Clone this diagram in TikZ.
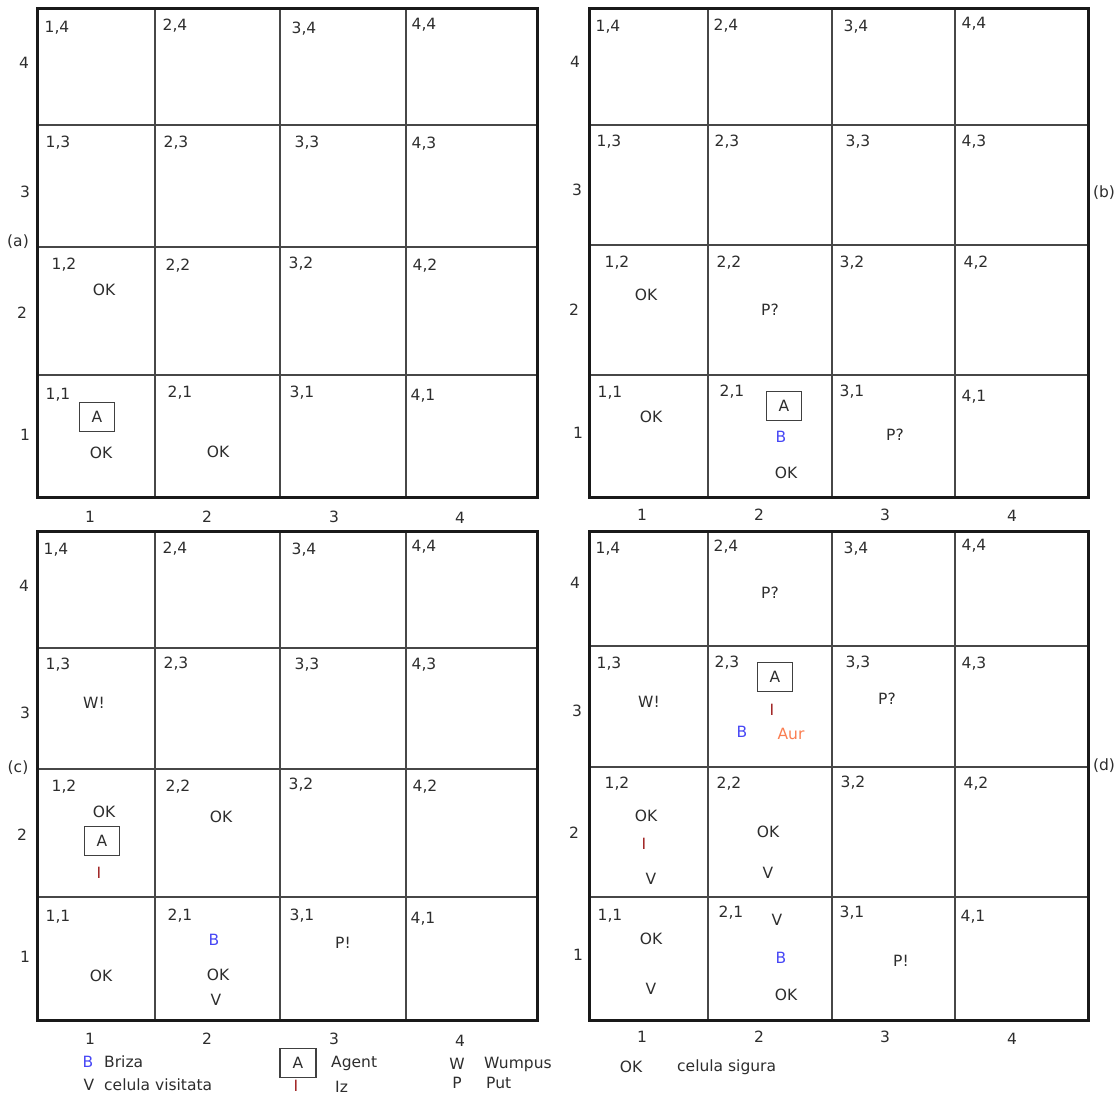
\documentclass[tikz,border=0pt]{standalone}
\usepackage{fontspec}
\setmainfont{DejaVu Sans}
\definecolor{ink}{RGB}{45,45,45}
\definecolor{bz}{RGB}{70,70,245}
\definecolor{iz}{RGB}{160,35,35}
\definecolor{aur}{RGB}{250,125,80}
\begin{document}
\begin{tikzpicture}[x=1pt,y=-1pt,
  txt/.style={font=\fontsize{15.5}{17}\selectfont, text=ink, inner sep=0pt},
  outerbox/.style={line width=3pt, draw=black!90},
  innerline/.style={line width=1.9pt, draw=black!72},
  agentbox/.style={txt, draw=black!75, line width=1.6pt, minimum width=35pt, minimum height=29pt},
  breeze/.style={txt, text=bz},
  stench/.style={txt, text=iz},
  gold/.style={txt, text=aur},
]
\useasboundingbox (0,0) rectangle (1118,1097);

% ---------- grid (a) ----------
\foreach \x in {155,280,406} \draw[innerline] (\x,9) -- (\x,497);
\foreach \y in {125,247,375} \draw[innerline] (37,\y) -- (537,\y);
\draw[outerbox] (37,9) rectangle (537,497);
% ---------- grid (b) ----------
\foreach \x in {708,832,955} \draw[innerline] (\x,9) -- (\x,497);
\foreach \y in {125,245,375} \draw[innerline] (589,\y) -- (1088,\y);
\draw[outerbox] (589,9) rectangle (1088,497);
% ---------- grid (c) ----------
\foreach \x in {155,280,406} \draw[innerline] (\x,531) -- (\x,1020);
\foreach \y in {648,769,897} \draw[innerline] (37,\y) -- (537,\y);
\draw[outerbox] (37,531) rectangle (537,1020);
% ---------- grid (d) ----------
\foreach \x in {708,832,955} \draw[innerline] (\x,531) -- (\x,1020);
\foreach \y in {646,767,897} \draw[innerline] (589,\y) -- (1088,\y);
\draw[outerbox] (589,531) rectangle (1088,1020);

% ---------- cell coordinates ----------
\foreach \c/\r/\x/\y in {1/4/57/28, 2/4/175/26, 3/4/304/29, 4/4/424/25,
  1/3/58/143, 2/3/176/143, 3/3/307/143, 4/3/424/144,
  1/2/64/265, 2/2/178/266, 3/2/301/264, 4/2/425/266,
  1/1/58/395, 2/1/180/393, 3/1/302/393, 4/1/423/396}
  \node[txt] (a\c\r) at (\x,\y) {\c,\r};
\foreach \c/\r/\x/\y in {1/4/608/27, 2/4/726/26, 3/4/856/27, 4/4/974/24,
  1/3/609/142, 2/3/727/142, 3/3/858/142, 4/3/974/142,
  1/2/617/263, 2/2/729/263, 3/2/852/263, 4/2/976/263,
  1/1/610/393, 2/1/732/392, 3/1/852/392, 4/1/974/397}
  \node[txt] (b\c\r) at (\x,\y) {\c,\r};
\foreach \c/\r/\x/\y in {1/4/56/550, 2/4/175/549, 3/4/304/550, 4/4/424/547,
  1/3/58/665, 2/3/176/664, 3/3/307/665, 4/3/424/665,
  1/2/64/787, 2/2/178/787, 3/2/301/785, 4/2/425/787,
  1/1/58/917, 2/1/180/916, 3/1/302/916, 4/1/423/919}
  \node[txt] (c\c\r) at (\x,\y) {\c,\r};
\foreach \c/\r/\x/\y in {1/4/608/549, 2/4/726/547, 3/4/856/549, 4/4/974/546,
  1/3/609/664, 2/3/727/663, 3/3/858/663, 4/3/974/664,
  1/2/617/784, 2/2/729/784, 3/2/853/783, 4/2/976/784,
  1/1/610/916, 2/1/731/913, 3/1/852/913, 4/1/973/917}
  \node[txt] (d\c\r) at (\x,\y) {\c,\r};

% ---------- axis labels ----------
\foreach \n/\x/\y in {4/24/63, 3/25/192, 2/22/313, 1/25/435}
  \node[txt] (ar\n) at (\x,\y) {\n};
\foreach \n/\x/\y in {1/90/517, 2/207/517, 3/334/517, 4/460/518}
  \node[txt] (ac\n) at (\x,\y) {\n};
\foreach \n/\x/\y in {4/575/62, 3/577/190, 2/574/310, 1/578/433}
  \node[txt] (br\n) at (\x,\y) {\n};
\foreach \n/\x/\y in {1/642/515, 2/759/515, 3/885/515, 4/1012/516}
  \node[txt] (bc\n) at (\x,\y) {\n};
\foreach \n/\x/\y in {4/24/586, 3/25/713, 2/22/835, 1/25/957}
  \node[txt] (cr\n) at (\x,\y) {\n};
\foreach \n/\x/\y in {1/90/1039, 2/207/1039, 3/334/1039, 4/460/1041}
  \node[txt] (cc\n) at (\x,\y) {\n};
\foreach \n/\x/\y in {4/575/583, 3/577/711, 2/574/833, 1/578/955}
  \node[txt] (dr\n) at (\x,\y) {\n};
\foreach \n/\x/\y in {1/642/1037, 2/759/1037, 3/885/1037, 4/1012/1039}
  \node[txt] (dc\n) at (\x,\y) {\n};

\node[txt] (la) at (18,242) {(a)};
\node[txt] (lb) at (1104,193) {(b)};
\node[txt] (lc) at (18,768) {(c)};
\node[txt] (ld) at (1104,766) {(d)};

% ---------- contents (a) ----------
\node[txt] (okA12) at (104,290) {OK};
\node[agentbox] (agA) at (97,417) {A};
\node[txt] (okA11) at (101,453) {OK};
\node[txt] (okA21) at (218,452) {OK};

% ---------- contents (b) ----------
\node[txt] (okB12) at (646,295) {OK};
\node[txt] (pB22) at (770,310) {P?};
\node[txt] (okB11) at (651,417) {OK};
\node[agentbox] (agB) at (784,406) {A};
\node[breeze] (bB21) at (781,437) {B};
\node[txt] (okB21) at (786,473) {OK};
\node[txt] (pB31) at (895,435) {P?};

% ---------- contents (c) ----------
\node[txt] (wC13) at (94,703) {W!};
\node[txt] (okC12) at (104,812) {OK};
\node[agentbox] (agC) at (102,841) {A};
\node[stench] (iC12) at (99,873) {I};
\node[txt] (okC22) at (221,817) {OK};
\node[breeze] (bC21) at (214,940) {B};
\node[txt] (okC21) at (218,975) {OK};
\node[txt] (vC21) at (216,1000) {V};
\node[txt] (okC11) at (101,976) {OK};
\node[txt] (pC31) at (343,943) {P!};

% ---------- contents (d) ----------
\node[txt] (pD24) at (770,593) {P?};
\node[agentbox] (agD) at (775,677) {A};
\node[stench] (iD23) at (772,710) {I};
\node[breeze] (bD23) at (742,732) {B};
\node[gold] (aurD) at (791,734) {Aur};
\node[txt] (wD13) at (649,702) {W!};
\node[txt] (pD33) at (887,699) {P?};
\node[txt] (okD12) at (646,816) {OK};
\node[stench] (iD12) at (644,844) {I};
\node[txt] (vD12) at (651,879) {V};
\node[txt] (okD22) at (768,832) {OK};
\node[txt] (vD22) at (768,873) {V};
\node[txt] (vD21) at (777,920) {V};
\node[breeze] (bD21) at (781,958) {B};
\node[txt] (okD21) at (786,995) {OK};
\node[txt] (okD11) at (651,939) {OK};
\node[txt] (vD11) at (651,989) {V};
\node[txt] (pD31) at (901,961) {P!};

% ---------- legend ----------
\node[breeze] (bL) at (88,1062) {B};
\node[txt, anchor=west] (bLt) at (104,1062) {Briza};
\node[txt] (vL) at (89,1085) {V};
\node[txt, anchor=west] (vLt) at (104,1085) {celula visitata};
\node[agentbox, minimum width=36pt, minimum height=29pt] (agL) at (298,1063) {A};
\node[txt, anchor=west] (agLt) at (331,1063) {Agent};
\node[stench] (iL) at (296,1086) {I};
\node[txt, anchor=west] (iLt) at (335,1087) {Iz};
\node[txt] (wL) at (457,1064) {W};
\node[txt, anchor=west] (wLt) at (484,1064) {Wumpus};
\node[txt] (pL) at (457,1083) {P};
\node[txt, anchor=west] (pLt) at (486,1083) {Put};
\node[txt] (okL) at (631,1067) {OK};
\node[txt, anchor=west] (okLt) at (677,1067) {celula sigura};
\end{tikzpicture}
\end{document}
